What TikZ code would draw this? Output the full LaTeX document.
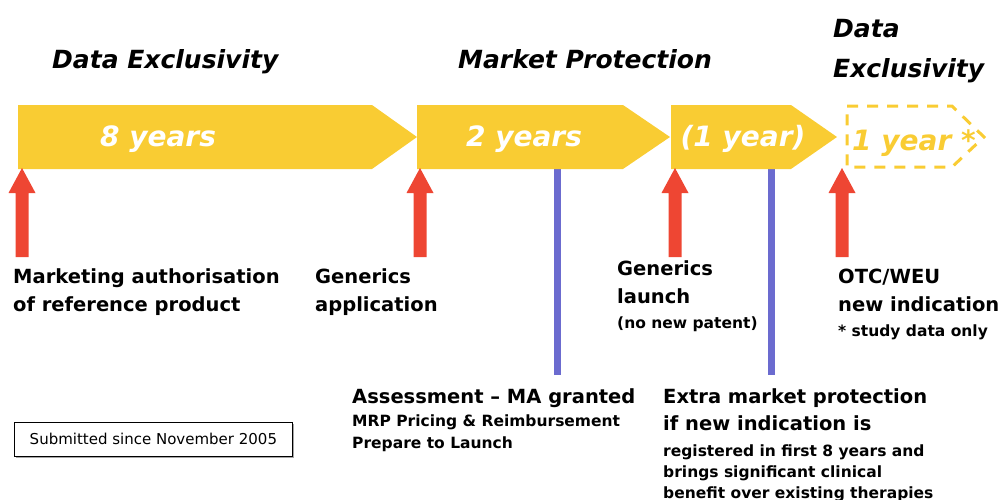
\documentclass[tikz,border=0pt]{standalone}
\usepackage{fontspec}
\setmainfont{DejaVu Sans}
\begin{document}
\begin{tikzpicture}[x=1pt,y=-1pt,
  yel/.style={fill=ylw,draw=none},
  redarr/.style={fill=rdc,draw=none},
  bline/.style={draw=blu,line width=7pt},
  ttl/.style={anchor=base west,inner sep=0pt,font=\fontsize{25}{30}\selectfont\bfseries\itshape},
  intxt/.style={anchor=base,inner sep=0pt,text=white,font=\fontsize{28}{32}\selectfont\bfseries\itshape},
  lbl/.style={anchor=base west,inner sep=0pt,font=\fontsize{19.5}{22}\selectfont\bfseries},
  sub/.style={anchor=base west,inner sep=0pt,font=\fontsize{15.5}{18}\selectfont\bfseries},
]
\definecolor{ylw}{HTML}{F9CC33}
\definecolor{rdc}{HTML}{EE4633}
\definecolor{blu}{HTML}{6B6BCF}
\useasboundingbox (0,0) rectangle (1002,499);
% titles
\node[ttl] (t1) at (52,68) {Data Exclusivity};
\node[ttl] (t2) at (458,68) {Market Protection};
\node[ttl] (t3) at (833,37) {Data};
\node[ttl] (t4) at (833,77) {Exclusivity};
% blue lines (behind)
\draw[bline] (557,165) -- (557,375);
\draw[bline] (771,165) -- (771,375);
% yellow pentagons
\fill[yel] (18,105) -- (372,105) -- (417,137) -- (372,169) -- (18,169) -- cycle;
\fill[yel] (417,105) -- (623,105) -- (670,137) -- (623,169) -- (417,169) -- cycle;
\fill[yel] (671,105) -- (791,105) -- (837,137) -- (791,169) -- (671,169) -- cycle;
\draw[ylw,line width=3pt,dash pattern=on 11pt off 9pt] (847,106) -- (952,106) -- (984,137) -- (952,167) -- (847,167) -- cycle;
\node[intxt] (y1) at (158,146) {8 years};
\node[intxt] (y2) at (524,146) {2 years};
\node[intxt] (y3) at (743,146) {(1 year)};
\node[intxt,text=ylw,anchor=base west] (y4) at (852,150) {1 year *};
% red arrows
\foreach \x in {22,420,675,842}{
  \fill[redarr] (\x,168) -- (\x+13.5,193) -- (\x+6.5,193) -- (\x+6.5,257) -- (\x-6.5,257) -- (\x-6.5,193) -- (\x-13.5,193) -- cycle;
}
% labels
\node[lbl] (a1) at (13,283) {Marketing authorisation};
\node[lbl] (a2) at (13,311) {of reference product};
\node[lbl] (b1) at (315,283) {Generics};
\node[lbl] (b2) at (315,311) {application};
\node[lbl] (c1) at (617,275) {Generics};
\node[lbl] (c2) at (617,303) {launch};
\node[sub] (c3) at (617,328) {(no new patent)};
\node[lbl] (d1) at (838,283) {OTC/WEU};
\node[lbl] (d2) at (838,311) {new indication};
\node[sub] (d3) at (838,336) {* study data only};
\node[lbl] (e1) at (352,403) {Assessment -- MA granted};
\node[sub] (e2) at (352,426) {MRP Pricing \& Reimbursement};
\node[sub] (e3) at (352,448) {Prepare to Launch};
\node[lbl] (f1) at (663,403) {Extra market protection};
\node[lbl] (f2) at (663,430) {if new indication is};
\node[sub] (f3) at (663,456) {registered in first 8 years and};
\node[sub] (f4) at (663,477) {brings significant clinical};
\node[sub] (f5) at (663,498) {benefit over existing therapies};
% box
\fill[gray!70] (16,424) rectangle (294,458);
\node[draw=black,fill=white,line width=0.8pt,minimum width=278pt,minimum height=34pt,inner sep=0pt,anchor=north west,font=\fontsize{15}{18}\selectfont] (box) at (14,422) {Submitted since November 2005};
\end{tikzpicture}
\end{document}
